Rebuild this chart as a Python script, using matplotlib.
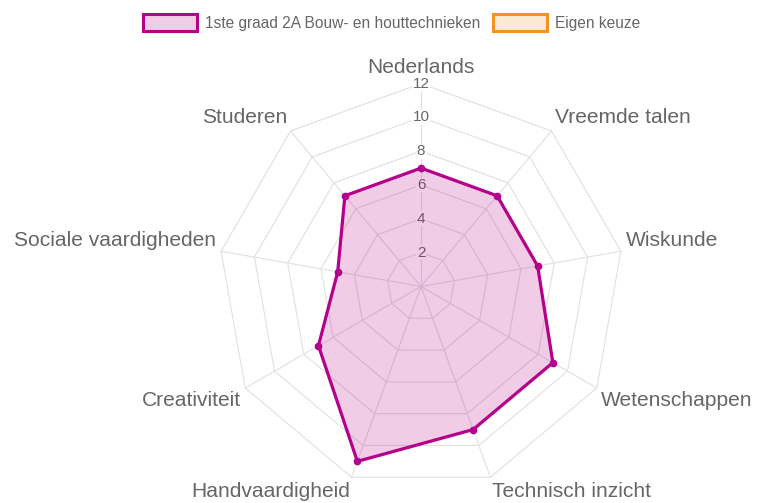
import numpy as np
import matplotlib
matplotlib.use("Agg")
import matplotlib.pyplot as plt
from matplotlib.patches import Patch

# ---- data ----
categories = ["Nederlands", "Vreemde talen", "Wiskunde", "Wetenschappen",
              "Technisch inzicht", "Handvaardigheid", "Creativiteit",
              "Sociale vaardigheden", "Studeren"]
series_name = "1ste graad 2A Bouw- en houttechnieken"
series_values = [7, 7, 7, 9, 9, 11, 7, 5, 7]
eigen_name = "Eigen keuze"
eigen_values = []  # empty dataset (legend only)
tick_values = [2, 4, 6, 8, 10, 12]
r_max = 12

# ---- style ----
purple = "#b5008a"
orange = "#f39322"
grid_col = "#e0e0e0"
text_col = "#666666"
plt.rcParams['font.family'] = ['Liberation Sans', 'DejaVu Sans']

W, H = 757, 503
fig = plt.figure(figsize=(W / 100, H / 100), dpi=100)
ax = fig.add_axes([0, 0, 1, 1])
s = 203 / r_max          # px per unit
cx, cy = 421, 286.5      # centre in pixels (from top)
ax.set_xlim(-cx / s, (W - cx) / s)
ax.set_ylim(-(H - cy) / s, cy / s)
ax.axis('off')

n = len(categories)
theta = np.deg2rad(90 - np.arange(n) * 360 / n)
cs, sn = np.cos(theta), np.sin(theta)

# grid rings
for t in tick_values:
    xs = np.append(t * cs, t * cs[0])
    ys = np.append(t * sn, t * sn[0])
    ax.plot(xs, ys, color=grid_col, lw=0.8, zorder=1)
# spokes
for c, si in zip(cs, sn):
    ax.plot([0, r_max * c], [0, r_max * si], color=grid_col, lw=0.8, zorder=1)

# tick labels
for t in tick_values:
    ax.text(0, t, str(t), ha='center', va='center', fontsize=11, color=text_col,
            zorder=2, bbox=dict(facecolor='white', edgecolor='none', pad=0.3))

# point labels
pad = 5 / s
for lab, c, si in zip(categories, cs, sn):
    ha = 'left' if c > 1e-6 else ('right' if c < -1e-6 else 'center')
    va = 'bottom' if si > 0 else 'top'
    r = r_max + pad
    extra = 1.5 / s if ha == 'center' and si > 0 else 0
    ax.text(r * c, r * si + extra, lab, ha=ha, va=va, fontsize=15.1, color=text_col, zorder=5)

# data
vals = np.array(series_values, dtype=float)
xs = np.append(vals * cs, vals[0] * cs[0])
ys = np.append(vals * sn, vals[0] * sn[0])
ax.fill(xs, ys, color=purple, alpha=0.2, lw=0, zorder=3)
ax.plot(xs, ys, color=purple, lw=2.3, zorder=4, solid_joinstyle='miter')
ax.plot(vals * cs, vals * sn, 'o', color=purple, ms=4.5, zorder=4)

# legend
handles = [
    Patch(facecolor=(181/255, 0, 138/255, 0.2), edgecolor=purple, linewidth=2.2, label=series_name),
    Patch(facecolor=(243/255, 147/255, 34/255, 0.2), edgecolor=orange, linewidth=2.2, label=eigen_name),
]
fs_leg = 11.2
fig.legend(handles=handles, loc='center', ncol=2, frameon=False,
           bbox_to_anchor=(391.5 / W, 1 - 22.5 / H), fontsize=fs_leg,
           handlelength=3.5, handleheight=1.25, handletextpad=0.5,
           columnspacing=0.8, borderpad=0, borderaxespad=0, labelcolor=text_col)

fig.savefig("out.png", dpi=100)
